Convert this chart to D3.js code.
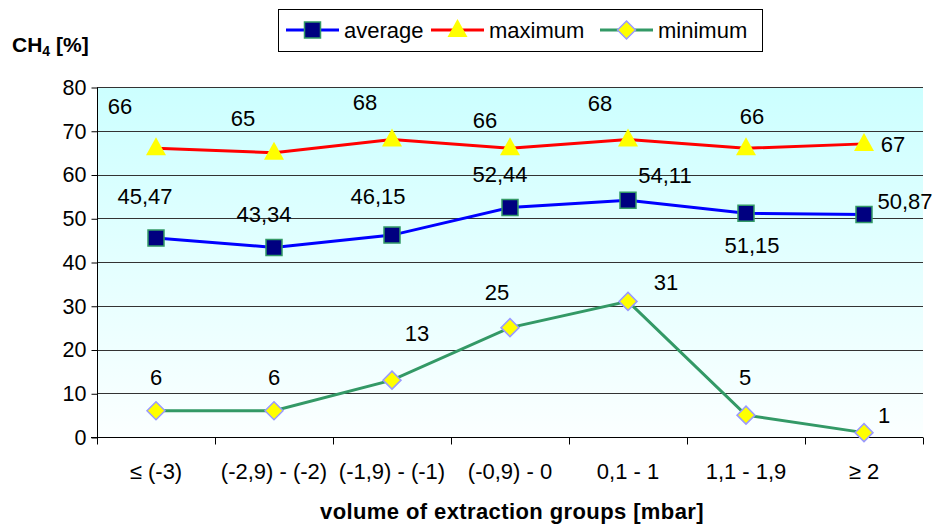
<!doctype html>
<html>
<head>
<meta charset="utf-8">
<script src="https://cdnjs.cloudflare.com/ajax/libs/d3/7.8.5/d3.min.js"></script>
<style>
  body { margin: 0; background: #fff; }
  text { font-family: "Liberation Sans", Arial, sans-serif; fill: #000; }
</style>
</head>
<body>
<svg id="chart" width="935" height="525"></svg>
<script>
// data
var groups = ["≤ (-3)", "(-2,9) - (-2)", "(-1,9) - (-1)", "(-0,9) - 0", "0,1 - 1", "1,1 - 1,9", "≥ 2"];
var average = [45.47, 43.34, 46.15, 52.44, 54.11, 51.15, 50.87];
var maximum = [66, 65, 68, 66, 68, 66, 67];
var minimum = [6, 6, 13, 25, 31, 5, 1];
var yTicks = [0, 10, 20, 30, 40, 50, 60, 70, 80];

// label offsets (px) from the point, as placed in the original
var avgLabelOff = [[-11, -42], [-10, -33], [-14, -39], [-10, -33], [37, -25], [6, 32], [41, -13]];
var maxLabelOff = [[-36, -42], [-31, -35], [-27, -37], [-25, -28], [-28, -36], [6, -32], [29, 0]];
var minLabelOff = [[0, -34], [0, -34], [25, -47], [-13, -36], [38, -19], [-1, -38], [20, -18]];

var svg = d3.select("#chart");
var plotL = 97, plotR = 923, plotT = 87, plotB = 437;

var x = d3.scaleBand().domain(groups).range([plotL, plotR]);
var y = d3.scaleLinear().domain([0, 80]).range([plotB, plotT]);

// plot background gradient
var grad = svg.append("defs").append("linearGradient")
    .attr("id", "bg").attr("x1", 0).attr("y1", 0).attr("x2", 0).attr("y2", 1);
grad.append("stop").attr("offset", "0%").attr("stop-color", "#ccffff");
grad.append("stop").attr("offset", "100%").attr("stop-color", "#fbffff");

svg.append("rect")
    .attr("x", plotL).attr("y", plotT)
    .attr("width", plotR - plotL).attr("height", plotB - plotT)
    .attr("fill", "url(#bg)");

// gridlines
svg.append("g").selectAll("line")
    .data(yTicks.filter(function(d) { return d > 0; }))
    .enter().append("line")
    .attr("x1", plotL).attr("x2", plotR)
    .attr("y1", function(d) { return Math.round(y(d)) + 0.5; })
    .attr("y2", function(d) { return Math.round(y(d)) + 0.5; })
    .attr("stroke", "#333").attr("stroke-width", 1);

// y axis
var yAxis = svg.append("g")
    .attr("transform", "translate(" + (plotL + 0.5) + ",0.5)")
    .call(d3.axisLeft(y).tickValues(yTicks).tickSize(6).tickPadding(5));
yAxis.select(".domain").attr("stroke", "#000").attr("d", "M0," + plotT + "V" + (plotB + 6));
yAxis.selectAll(".tick line").attr("stroke", "#000");
yAxis.selectAll(".tick text")
    .attr("font-size", "21.5px").attr("font-family", "Liberation Sans, Arial, sans-serif")
    .attr("fill", "#000");

// x axis
var xAxis = svg.append("g")
    .attr("transform", "translate(0," + (plotB + 0.5) + ")")
    .call(d3.axisBottom(x).tickSize(0).tickPadding(26));
xAxis.select(".domain").attr("stroke", "#000").attr("d", "M" + (plotL - 6) + ",0H" + plotR);
xAxis.selectAll(".tick text")
    .attr("font-size", "22px").attr("font-family", "Liberation Sans, Arial, sans-serif")
    .attr("fill", "#000");
// ticks at band boundaries
xAxis.append("g").selectAll("line")
    .data(groups.concat([null]))
    .enter().append("line")
    .attr("x1", function(d, i) { return Math.round(plotL + i * x.bandwidth()) + 0.5; })
    .attr("x2", function(d, i) { return Math.round(plotL + i * x.bandwidth()) + 0.5; })
    .attr("y1", 0).attr("y2", 7)
    .attr("stroke", "#000");

var cx = function(d, i) { return x(groups[i]) + x.bandwidth() / 2; };

var series = [
  { name: "average", values: average, line: "#0000ff", off: avgLabelOff, marker: "square", fill: "#000080", stroke: "#339966",
    fmt: function(v) { return v.toFixed(2).replace(".", ","); } },
  { name: "maximum", values: maximum, line: "#ff0000", off: maxLabelOff, marker: "triangle", fill: "#ffff00", stroke: "none",
    fmt: function(v) { return String(v); } },
  { name: "minimum", values: minimum, line: "#339966", off: minLabelOff, marker: "diamond", fill: "#ffff00", stroke: "#9999ff",
    fmt: function(v) { return String(v); } }
];

function markerPath(type) {
  if (type === "square") return "M-8,-8H8V8H-8Z";
  if (type === "triangle") return "M0,-11L10,7H-10Z";
  return "M0,-9L9,0L0,9L-9,0Z";
}

var line = d3.line()
    .x(function(d, i) { return cx(d, i); })
    .y(function(d) { return y(d); });

series.forEach(function(s) {
  svg.append("path")
      .datum(s.values)
      .attr("d", line)
      .attr("fill", "none")
      .attr("stroke", s.line)
      .attr("stroke-width", 3);

  svg.append("g").selectAll("path")
      .data(s.values)
      .enter().append("path")
      .attr("transform", function(d, i) { return "translate(" + cx(d, i) + "," + y(d) + ")"; })
      .attr("d", markerPath(s.marker))
      .attr("fill", s.fill)
      .attr("stroke", s.stroke)
      .attr("stroke-width", 1.5);

  svg.append("g").selectAll("text")
      .data(s.values)
      .enter().append("text")
      .attr("x", function(d, i) { return cx(d, i) + s.off[i][0]; })
      .attr("y", function(d, i) { return y(d) + s.off[i][1]; })
      .attr("dy", "0.36em")
      .attr("text-anchor", "middle")
      .attr("font-size", "22px")
      .text(function(d) { return s.fmt(d); });
});

// y title
var yt = svg.append("text")
    .attr("x", 12).attr("y", 52)
    .attr("font-size", "21px").attr("font-weight", "bold");
yt.append("tspan").text("CH");
yt.append("tspan").attr("font-size", "14px").attr("dy", 4).text("4");
yt.append("tspan").attr("dy", -4).text(" [%]");

// x title
svg.append("text")
    .attr("x", (plotL + plotR) / 2 + 2).attr("y", 519)
    .attr("text-anchor", "middle")
    .attr("font-size", "22px").attr("font-weight", "bold")
    .attr("letter-spacing", "0.4px")
    .text("volume of extraction groups [mbar]");

// legend
var legend = svg.append("g");
legend.append("rect")
    .attr("x", 278.5).attr("y", 9.5).attr("width", 484).attr("height", 42)
    .attr("fill", "#fff").attr("stroke", "#000").attr("stroke-width", 1);

var legendX = [286, 431, 600];
series.forEach(function(s, i) {
  var g = legend.append("g").attr("transform", "translate(" + legendX[i] + ",30)");
  g.append("line").attr("x1", 0).attr("x2", 53).attr("y1", 0).attr("y2", 0)
      .attr("stroke", s.line).attr("stroke-width", 3);
  g.append("path").attr("transform", "translate(26.5,0)")
      .attr("d", markerPath(s.marker))
      .attr("fill", s.fill).attr("stroke", s.stroke).attr("stroke-width", 1.5);
  g.append("text").attr("x", 58).attr("y", 0).attr("dy", "0.36em")
      .attr("font-size", "22px").text(s.name);
});
</script>
</body>
</html>
